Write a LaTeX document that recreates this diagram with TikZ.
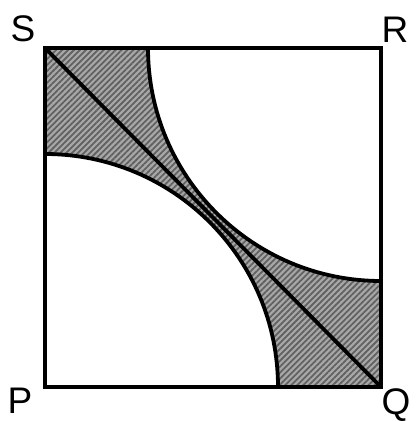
\documentclass[tikz,border=0pt]{standalone}
\usepackage{fontspec}
\setmainfont{Liberation Sans}
\usetikzlibrary{patterns.meta,calc}
\begin{document}
\begin{tikzpicture}[x=1pt,y=1pt,
  edge/.style={line width=3.8pt,line join=miter},
  lbl/.style={font=\fontsize{37}{37}\selectfont,inner sep=0pt}]
\useasboundingbox (0,0) rectangle (416,421);
\coordinate (P) at (45,34);
\coordinate (Q) at (381,34);
\coordinate (R) at (381,373);
\coordinate (S) at (45,373);
\begin{scope}
  \clip (P) rectangle (R);
  \fill[gray!68,even odd rule] (P) rectangle (R) (P) circle[radius=233] (R) circle[radius=233];
  \fill[pattern={Lines[angle=45,distance=4.2pt,line width=1.8pt]},pattern color=black!62,even odd rule]
    (P) rectangle (R) (P) circle[radius=233] (R) circle[radius=233];
\end{scope}
\draw[edge] ($(P)+(0,233)$) arc[start angle=90,end angle=0,radius=233];
\draw[edge] ($(R)+(-233,0)$) arc[start angle=180,end angle=270,radius=233];
\draw[edge] (S) -- (Q);
\draw[edge] (P) -- (Q) -- (R) -- (S) -- cycle;
\node[lbl] (ls) at (23,392) {S};
\node[lbl] (lr) at (395,391) {R};
\node[lbl] (lp) at (20,20) {P};
\node[lbl] (lq) at (396,16) {Q};
\end{tikzpicture}
\end{document}
